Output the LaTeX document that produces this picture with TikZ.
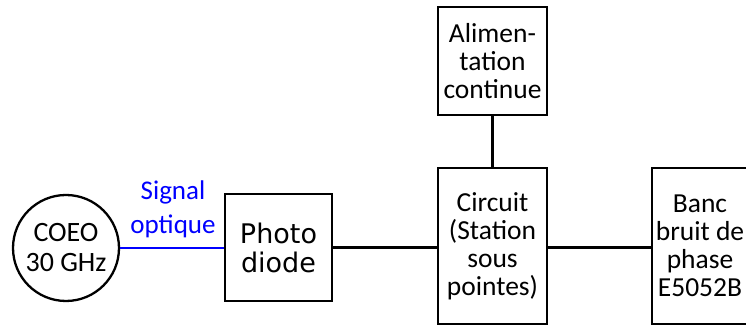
\documentclass[tikz,border=0pt]{standalone}
\usepackage{fontspec}
\setmainfont{Carlito}
\newfontfamily\dejavu{DejaVu Sans}
\definecolor{sigblue}{RGB}{0,0,255}
\begin{document}
\begin{tikzpicture}[x=1pt,y=1pt,
  blk/.style={draw=black, line width=2.5pt, rectangle, inner sep=0pt, align=center,
    font=\fontsize{27.5}{28}\selectfont},
  wire/.style={draw=black, line width=2.3pt},
  optwire/.style={draw=sigblue, line width=2.8pt}]
\clip (0,0) rectangle (746,328);
\useasboundingbox (0,0) rectangle (746,328);
\fill[white] (0,0) rectangle (746,328);
\node[draw=black, line width=2.3pt, circle, minimum size=106pt, inner sep=0pt, align=center,
  font=\fontsize{28}{30}\selectfont] (coeo) at (66,80) {COEO\\30 GHz};
\node[blk, minimum width=107pt, minimum height=107pt, font=\dejavu\fontsize{27}{29}\selectfont]
  (pd) at (278.5,80.5) {Photo\\diode};
\node[blk, minimum width=109pt, minimum height=156pt] (circ) at (492.5,82)
  {Circuit\\(Station\\sous\\pointes)};
\node[blk, minimum width=109pt, minimum height=108pt] (alim) at (492.5,267)
  {Alimen-\\tation\\continue};
\node[blk, minimum width=96pt, minimum height=156pt] (banc) at (700,82)
  {Banc\\bruit de\\phase\\E5052B};
\node[text=sigblue, align=center, inner sep=0pt, font=\fontsize{27}{34}\selectfont]
  (sig) at (173,118.5) {Signal\\optique};
\draw[optwire] (coeo.east) -- (pd.west |- coeo.east);
\draw[wire] (pd.east) -- (pd.east -| circ.west);
\draw[wire] (circ.east |- pd.east) -- (banc.west |- pd.east);
\draw[wire] (alim.south) -- (circ.north);
\end{tikzpicture}
\end{document}
